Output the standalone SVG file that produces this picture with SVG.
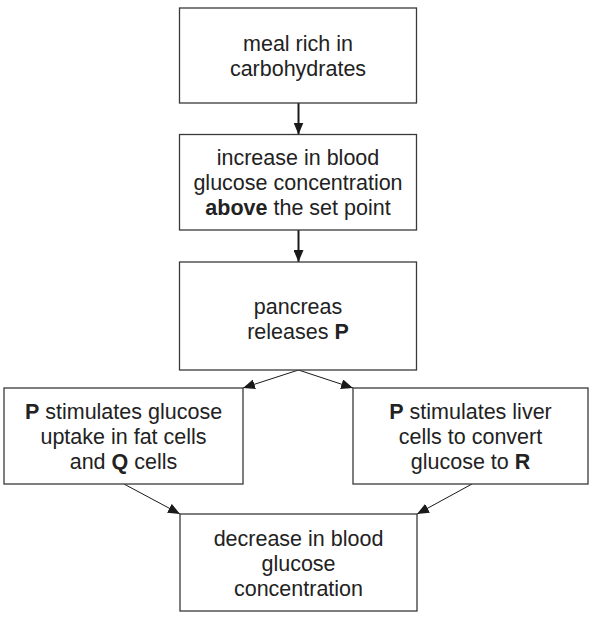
<svg xmlns="http://www.w3.org/2000/svg" width="590" height="624" viewBox="0 0 590 624">
<defs>
<marker id="ah" markerWidth="12" markerHeight="10" refX="12" refY="5" orient="auto" markerUnits="userSpaceOnUse">
<path d="M0,0 L12,5 L0,10 Z" fill="#1a1a1a"/>
</marker>
<style>
.box{fill:#fff;stroke:#3a3a3a;stroke-width:1.3}
.t{font-family:"Liberation Sans",Arial,sans-serif;font-size:21.5px;fill:#222;text-anchor:middle}
.b{font-weight:bold}
.c{stroke:#1a1a1a;stroke-width:1;fill:none}
.v{stroke:#1a1a1a;stroke-width:2;fill:none}
</style>
</defs>
<rect width="590" height="624" fill="#fff"/>
<g id="connectors">
<line class="v" x1="298.5" y1="103" x2="298.5" y2="134.5" marker-end="url(#ah)"/>
<line class="v" x1="298.5" y1="230" x2="298.5" y2="262" marker-end="url(#ah)"/>
<line class="c" x1="298.5" y1="370" x2="243" y2="388" marker-end="url(#ah)"/>
<line class="c" x1="298.5" y1="370" x2="353" y2="388" marker-end="url(#ah)"/>
<line class="c" x1="124" y1="484" x2="180" y2="514" marker-end="url(#ah)"/>
<line class="c" x1="472" y1="484" x2="417" y2="514" marker-end="url(#ah)"/>
</g>
<g id="meal">
<rect class="box" x="179.5" y="8" width="237" height="95"/>
<text class="t" x="298" y="50.7">meal rich in</text>
<text class="t" x="298" y="75.7">carbohydrates</text>
</g>
<g id="increase">
<rect class="box" x="179.5" y="134.5" width="237" height="95.5"/>
<text class="t" x="298" y="165">increase in blood</text>
<text class="t" x="298" y="190">glucose concentration</text>
<text class="t" x="298" y="215"><tspan class="b">above</tspan> the set point</text>
</g>
<g id="pancreas">
<rect class="box" x="179.5" y="262" width="237" height="108"/>
<text class="t" x="298" y="314">pancreas</text>
<text class="t" x="298" y="339">releases <tspan class="b">P</tspan></text>
</g>
<g id="fat">
<rect class="box" x="4" y="388" width="239" height="96"/>
<text class="t" x="123.5" y="419">
<tspan class="b">P</tspan> stimulates glucose</text>
<text class="t" x="123.5" y="444">uptake in fat cells</text>
<text class="t" x="123.5" y="469">and <tspan class="b">Q</tspan> cells</text>
</g>
<g id="liver">
<rect class="box" x="353" y="388" width="235" height="96"/>
<text class="t" x="470.5" y="419"><tspan class="b">P</tspan> stimulates liver</text>
<text class="t" x="470.5" y="444">cells to convert</text>
<text class="t" x="470.5" y="469">glucose to <tspan class="b">R</tspan></text>
</g>
<g id="decrease">
<rect class="box" x="180" y="514" width="237" height="97"/>
<text class="t" x="298.5" y="546">decrease in blood</text>
<text class="t" x="298.5" y="571">glucose</text>
<text class="t" x="298.5" y="596">concentration</text>
</g>
</svg>
